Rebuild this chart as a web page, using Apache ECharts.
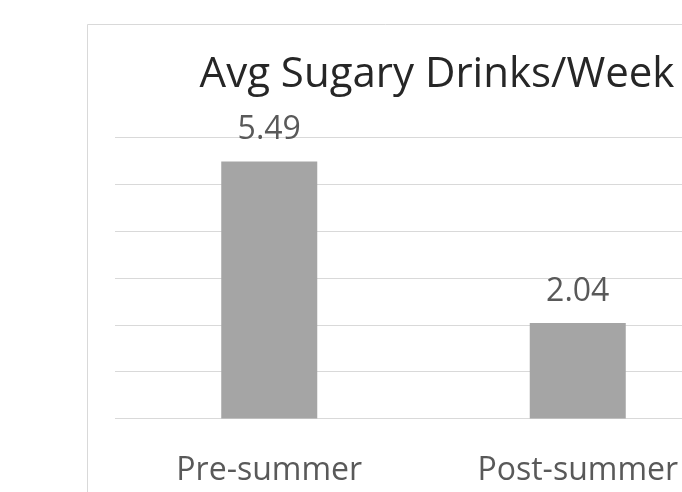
<!DOCTYPE html>
<html>
<head>
<meta charset="utf-8">
<script src="https://cdn.jsdelivr.net/npm/echarts@6/dist/echarts.min.js"></script>
<style>
  html, body { margin: 0; padding: 0; background: #fff; }
  #chart { width: 682px; height: 492px; }
</style>
</head>
<body>
<div id="chart"></div>
<script>
// Average sugary drinks per week, before and after summer
const categories = ['Pre-summer', 'Post-summer'];
const drinksPerWeek = [5.49, 2.04];
const chartTitle = 'Avg Sugary Drinks/Week';

const FONT = '"Open Sans", "Noto Sans", sans-serif';

const chart = echarts.init(document.getElementById('chart'), null, { renderer: 'canvas' });

chart.setOption({
  backgroundColor: '#ffffff',
  animation: false,
  title: {
    text: chartTitle,
    left: 432,
    textAlign: 'center',
    top: 49,
    textStyle: {
      fontFamily: FONT,
      fontSize: 42,
      fontWeight: 'normal',
      color: '#262626',
      lineHeight: 42
    }
  },
  graphic: [{
    type: 'rect',
    silent: true,
    z: -1,
    shape: { x: 87.5, y: 24.5, width: 800, height: 600 },
    style: { fill: 'none', stroke: '#d9d9d9', lineWidth: 1 }
  }],
  // plot area runs past the right edge of the canvas
  grid: {
    left: 115,
    width: 617,
    top: 137.5,
    height: 281,
    containLabel: false,
    outerBoundsMode: 'none'
  },
  xAxis: {
    type: 'category',
    data: categories,
    axisLine: { show: false },
    axisTick: { show: false },
    axisLabel: {
      margin: 36,
      fontFamily: FONT,
      fontSize: 32,
      lineHeight: 32,
      color: '#595959'
    }
  },
  yAxis: {
    type: 'value',
    min: 0,
    max: 6,
    interval: 1,
    axisLine: { show: false },
    axisTick: { show: false },
    axisLabel: { show: false },
    splitLine: { lineStyle: { color: '#d9d9d9', width: 1 } }
  },
  series: [{
    type: 'bar',
    data: drinksPerWeek,
    barWidth: 96,
    itemStyle: { color: '#a5a5a5' },
    label: {
      show: true,
      position: 'top',
      distance: 15,
      fontFamily: FONT,
      fontSize: 32,
      lineHeight: 32,
      color: '#595959',
      formatter: p => p.value.toFixed(2)
    }
  }]
});
</script>
</body>
</html>
